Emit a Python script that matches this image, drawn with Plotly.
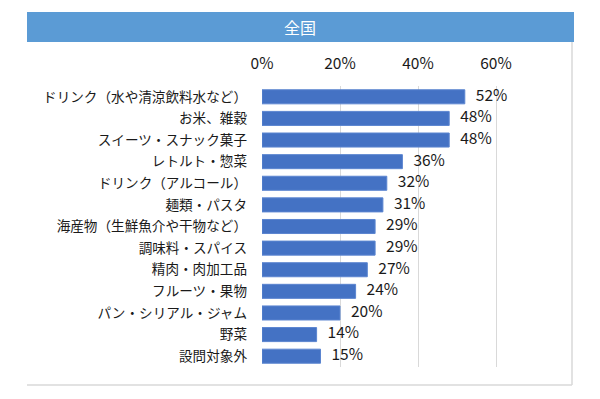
import plotly.graph_objects as go

categories = [
    "ドリンク（水や清涼飲料水など）",
    "お米、雑穀",
    "スイーツ・スナック菓子",
    "レトルト・惣菜",
    "ドリンク（アルコール）",
    "麺類・パスタ",
    "海産物（生鮮魚介や干物など）",
    "調味料・スパイス",
    "精肉・肉加工品",
    "フルーツ・果物",
    "パン・シリアル・ジャム",
    "野菜",
    "設問対象外",
]
values = [52, 48, 48, 36, 32, 31, 29, 29, 27, 24, 20, 14, 15]
tick_vals = [0, 20, 40, 60]
tick_text = ["0%", "20%", "40%", "60%"]
title_text = "全国"

FONT = "Noto Sans CJK JP"
labels = [f"{v}%" for v in values]

fig = go.Figure(go.Bar(
    x=values,
    y=categories,
    orientation="h",
    marker=dict(color="#4472C4", line=dict(color="#5B85D0", width=1)),
    width=0.65,
    hoverinfo="skip",
))
fig.add_trace(go.Scatter(
    x=values,
    y=categories,
    mode="markers+text",
    marker=dict(size=16, opacity=0),
    text=labels,
    textposition="middle right",
    textfont=dict(family=FONT, size=15.5, color="#1a1a1a"),
    cliponaxis=False,
    hoverinfo="skip",
))

W, H = 600, 399
L, R = 262, 262 + 3.9 * 70
T, B = 86, 367

fig.update_layout(
    width=W, height=H,
    margin=dict(l=L, r=W - R, t=T, b=H - B, pad=0),
    paper_bgcolor="white",
    plot_bgcolor="white",
    showlegend=False,
    xaxis=dict(
        range=[0, 70], side="top", tickvals=tick_vals, ticktext=tick_text,
        showgrid=True, gridcolor="#D9D9D9", gridwidth=1, zeroline=False,
        showline=False, ticks="", ticklabelstandoff=13,
        tickfont=dict(family=FONT, size=15.5, color="#1a1a1a"),
    ),
    yaxis=dict(
        range=[len(categories) - 0.5, -0.5], autorange=False,
        showgrid=False, showline=False, ticks="", zeroline=False,
        tickfont=dict(family=FONT, size=13.6, color="#1a1a1a"),
        ticklabelstandoff=14,
    ),
)

def px_x(x):
    return (x - L) / (R - L)

def px_y(y):
    return (B - y) / (B - T)

fig.update_layout(shapes=[
    # border
    dict(type="line", xref="paper", yref="paper", x0=px_x(572), x1=px_x(572),
         y0=px_y(42), y1=px_y(385), line=dict(color="#D9D9D9", width=1.5)),
    dict(type="line", xref="paper", yref="paper", x0=px_x(27), x1=px_x(572),
         y0=px_y(385), y1=px_y(385), line=dict(color="#D9D9D9", width=1.5)),
    # title band
    dict(type="rect", xref="paper", yref="paper", x0=px_x(27), x1=px_x(574),
         y0=px_y(42), y1=px_y(12), fillcolor="#5B9BD5", line=dict(width=0)),
])

fig.add_annotation(
    text=title_text, xref="paper", yref="paper", x=px_x(300), y=px_y(27),
    showarrow=False, xanchor="center", yanchor="middle",
    font=dict(family=FONT, size=16, color="white"),
)

fig.write_html("out.html", config={"displayModeBar": False},
               post_script="document.body.style.margin='0';")
